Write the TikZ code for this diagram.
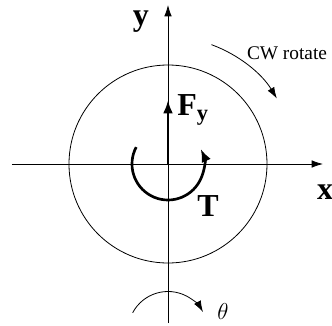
\documentclass[tikz,border=0pt]{standalone}
\usepackage{fontspec}
\setmainfont{Liberation Serif}
\usepackage{tikz}
\usetikzlibrary{arrows.meta, positioning, calc}
\tikzset{
  axisline/.style={
    -{Latex[length=3mm, width=2mm]}, line width=0.6pt
  },
  thinarc/.style={
    line width=0.6pt
  },
  thinarrow/.style={
    -{Latex[length=3mm, width=2mm]}, line width=0.6pt
  },
  forcearrow/.style={
    -{Latex[length=3.5mm, width=2.6mm]}, line width=2pt
  },
  axislabel/.style={
    font=\fontsize{24}{24}\selectfont\bfseries, inner sep=0pt
  },
  notelabel/.style={
    font=\fontsize{14.5}{14.5}\selectfont, inner sep=0pt
  },
}

\begin{document}
\begin{tikzpicture}[x=0.75pt, y=0.75pt]
  \useasboundingbox (-168,-161) rectangle (164,164);
  % axes
  \coordinate (o) at (0,0);
  \coordinate (xstart) at (-156,0);
  \coordinate (xend) at (155,0);
  \coordinate (ystart) at (0,-159);
  \coordinate (yend) at (0,159);
  \draw[axisline] (xstart) -- (xend);
  \draw[axisline] (ystart) -- (yend);
  \node[axislabel] (xlab) at (157,-28) {x};
  \node[axislabel] (ylab) at (-27,142) {y};

  % wheel
  \draw[thinarc] (o) circle[radius=99];

  % force and torque
  \coordinate (ftop) at (0,64);
  \draw[forcearrow] (o) -- (ftop);
  \node[axislabel, anchor=west] (flab) at (9,54) {F\textsubscript{y}};
  \coordinate (tstart) at (152:36);
  \draw[forcearrow] (tstart) arc[start angle=152, end angle=385, radius=36];
  \node[axislabel] (tlab) at (40,-42) {T};

  % rotation hints
  \coordinate (cwstart) at (70:127);
  \draw[thinarrow] (cwstart) arc[start angle=70, end angle=31, radius=127];
  \node[notelabel] (cwlab) at (119,111) {CW rotate};
  \coordinate (thc) at (0,-167.5);
  \coordinate (thstart) at ($(thc)+(152:40)$);
  \draw[thinarrow] (thstart) arc[start angle=152, end angle=29, radius=40];
  \node[notelabel, font=\fontsize{17}{17}\selectfont] (thlab) at (55,-147) {$\theta$};
\end{tikzpicture}
\end{document}
